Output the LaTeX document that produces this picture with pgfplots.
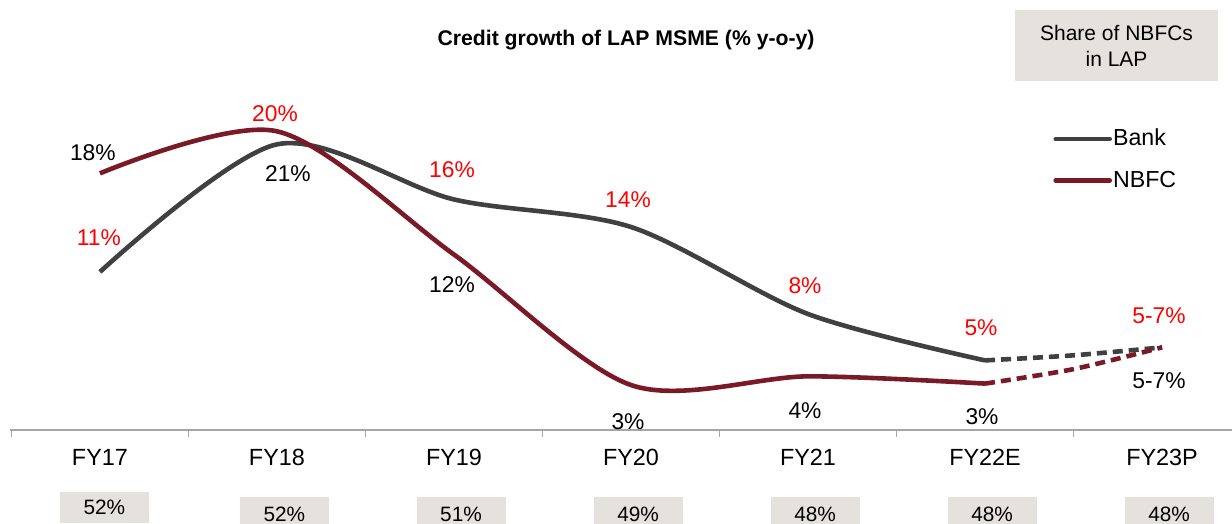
\documentclass[border=0pt]{standalone}
\usepackage{pgfplots}
\pgfplotsset{compat=1.18}
\usepackage{fontspec}
\setmainfont{Liberation Sans}
\definecolor{bankc}{HTML}{404040}
\definecolor{nbfcc}{HTML}{7A1A27}
\definecolor{boxc}{HTML}{E5E2DD}
\definecolor{redl}{HTML}{FF0000}
\definecolor{axc}{HTML}{A6A6A6}
\begin{document}
\begin{tikzpicture}
\path[use as bounding box] (0,0) rectangle (616pt,262pt);
\begin{axis}[
  at={(5pt,47pt)}, anchor=south west,
  scale only axis, width=611pt, height=215pt,
  xmin=-0.508, xmax=6.395, ymin=0, ymax=29.655,
  clip=false,
  axis y line=none,
  axis x line=bottom,
  axis line style={axc, line width=0.8pt, -},
  xtick={0,1,2,3,4,5,6},
  xticklabels={FY17,FY18,FY19,FY20,FY21,FY22E,FY23P},
  major tick length=0pt,
  minor xtick={-0.5,0.5,1.5,2.5,3.5,4.5,5.5},
  minor tick length=3.5pt,
  tick align=outside,
  minor tick style={axc, line width=0.8pt},
  xticklabel style={anchor=center, yshift=-13.5pt, font=\fontsize{11.7}{13}\selectfont},
  legend style={draw=none, fill=none, at={(axis cs:5.384,20.85)}, anchor=north west,
    font=\fontsize{11.6}{13}\selectfont, row sep=10pt, inner sep=0pt,
    nodes={inner sep=0.5pt}},
  legend cell align=left,
  legend image code/.code={\draw[#1, line width=2.3pt, line cap=round] (0pt,0pt) -- (27pt,0pt);},
  every axis plot/.append style={line width=2.3pt, smooth},
]
\addplot[bankc] coordinates {(0,10.9) (1,19.7) (2,15.9) (3,14.0) (4,8.0) (5,4.8)};
\addlegendentry{Bank}
\addplot[nbfcc] coordinates {(0,17.7) (1,20.6) (2,12.1) (3,3.1) (4,3.7) (5,3.2)};
\addlegendentry{NBFC}
\addplot[bankc, dashed, dash pattern=on 5pt off 3pt, forget plot] coordinates {(5,4.8) (5.5,5.15) (6,5.7)};
\addplot[nbfcc, dashed, dash pattern=on 5pt off 3pt, forget plot] coordinates {(5,3.2) (5.5,4.2) (6,5.7)};

% data labels
\begin{scope}[every node/.style={font=\fontsize{11.4}{13}\selectfont, inner sep=0pt}]
\node[black] at (axis cs:-0.040,19.10) {18\%};
\node[redl] at (axis cs:-0.006,13.24) {11\%};
\node[redl] at (axis cs:0.989,21.79) {20\%};
\node[black] at (axis cs:1.062,17.66) {21\%};
\node[redl] at (axis cs:1.989,17.93) {16\%};
\node[black] at (axis cs:1.989,10.0) {12\%};
\node[redl] at (axis cs:2.983,15.86) {14\%};
\node[black] at (axis cs:2.983,0.55) {3\%};
\node[redl] at (axis cs:3.983,9.93) {8\%};
\node[black] at (axis cs:3.983,1.31) {4\%};
\node[redl] at (axis cs:4.977,7.03) {5\%};
\node[black] at (axis cs:4.983,0.90) {3\%};
\node[redl] at (axis cs:5.983,7.86) {5-7\%};
\node[black] at (axis cs:5.983,3.38) {5-7\%};
\end{scope}

% title
\node[font=\bfseries\fontsize{10.6}{12}\selectfont] at (axis cs:2.972,26.9) {Credit growth of LAP MSME (\% y-o-y)};

% share box
\node[fill=boxc, minimum width=101.5pt, minimum height=35.5pt, align=center,
  font=\fontsize{10.5}{13}\selectfont, inner sep=0pt] at (axis cs:5.743,26.52) {Share of NBFCs\\in LAP};

% share values
\begin{scope}[every node/.style={fill=boxc, minimum width=44.5pt, inner sep=0pt, font=\fontsize{10.4}{12}\selectfont}]
\node[minimum height=15.5pt] at (axis cs:0.025,-5.345) {52\%};
\node[minimum height=17pt] at (axis cs:1.042,-5.8) {52\%};
\node[minimum height=17pt] at (axis cs:2.04,-5.8) {51\%};
\node[minimum height=17pt] at (axis cs:3.04,-5.8) {49\%};
\node[minimum height=17pt] at (axis cs:4.04,-5.8) {48\%};
\node[minimum height=17pt] at (axis cs:5.04,-5.8) {48\%};
\node[minimum height=17pt] at (axis cs:6.04,-5.8) {48\%};
\end{scope}
\end{axis}
\end{tikzpicture}
\end{document}
